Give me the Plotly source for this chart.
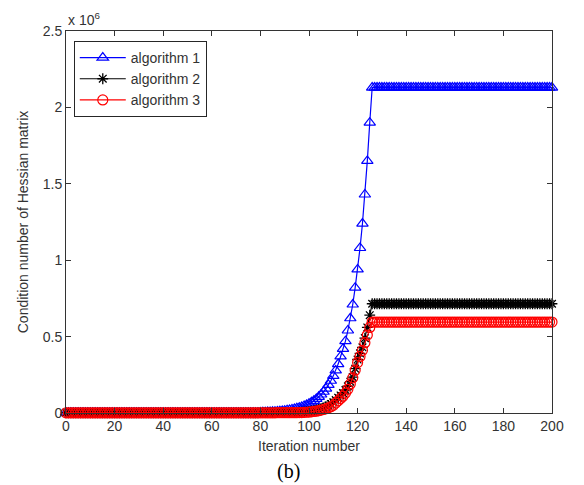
import numpy as np
import plotly.graph_objects as go

# Iteration index
iterations = list(range(0, 201))

# Condition number of the Hessian (in units of 1e6)
# algorithm 1: flat near zero, steep growth 80..125, plateau from 126
alg1_flat_start = 0.002
alg1_ramp = [0.004, 0.005, 0.005, 0.006, 0.007, 0.008, 0.009, 0.010, 0.012, 0.013,   # 80-89
             0.015, 0.018, 0.020, 0.023, 0.027, 0.031, 0.035, 0.040, 0.046, 0.053,   # 90-99
             0.061, 0.070, 0.080, 0.092, 0.106, 0.121, 0.139, 0.160, 0.184, 0.211,   # 100-109
             0.243, 0.279, 0.320, 0.370, 0.420, 0.470, 0.540, 0.620, 0.710, 0.820,   # 110-119
             0.940, 1.080, 1.240, 1.430, 1.650, 1.900]                               # 120-125
alg1_plateau = 2.13

# algorithm 2
alg2_flat_start = 0.001
alg2_ramp = [0.002, 0.002, 0.002, 0.003, 0.003, 0.003, 0.003, 0.003, 0.003, 0.004,   # 80-89
             0.004, 0.004, 0.004, 0.004, 0.004, 0.004, 0.005, 0.006, 0.007, 0.009,   # 90-99
             0.011, 0.013, 0.016, 0.019, 0.023, 0.028, 0.034, 0.041, 0.049, 0.059,   # 100-109
             0.070, 0.085, 0.100, 0.115, 0.130, 0.150, 0.175, 0.205, 0.235, 0.290,   # 110-119
             0.350, 0.390, 0.430, 0.490, 0.560, 0.640]                               # 120-125
alg2_plateau = 0.715

# algorithm 3
alg3_flat_start = 0.001
alg3_ramp = [0.001, 0.001, 0.001, 0.001, 0.001, 0.001, 0.001, 0.002, 0.002, 0.002,   # 80-89
             0.002, 0.002, 0.002, 0.002, 0.002, 0.002, 0.003, 0.003, 0.004, 0.005,   # 90-99
             0.006, 0.008, 0.010, 0.012, 0.015, 0.019, 0.023, 0.028, 0.034, 0.041,   # 100-109
             0.050, 0.065, 0.080, 0.095, 0.110, 0.130, 0.155, 0.190, 0.230, 0.280,   # 110-119
             0.330, 0.370, 0.410, 0.460, 0.510, 0.560]                               # 120-125
alg3_plateau = 0.595

x_ticks = [0, 20, 40, 60, 80, 100, 120, 140, 160, 180, 200]
y_ticks = [0, 0.5, 1, 1.5, 2, 2.5]
y_tick_text = ["0", "0.5", "1", "1.5", "2", "2.5"]


def build(start, ramp, plateau):
    n_start = 80
    n_plateau = len(iterations) - n_start - len(ramp)
    return [start] * n_start + list(ramp) + [plateau] * n_plateau


alg1 = build(alg1_flat_start, alg1_ramp, alg1_plateau)
alg2 = build(alg2_flat_start, alg2_ramp, alg2_plateau)
alg3 = build(alg3_flat_start, alg3_ramp, alg3_plateau)

FONT = "Liberation Sans, Arial, sans-serif"
TEXT_COLOR = "#333333"
AXIS_COLOR = "#333333"
FS = 14

fig = go.Figure()
fig.add_trace(go.Scatter(
    x=iterations, y=alg1, name="algorithm 1", mode="lines+markers",
    line=dict(color="#0000ff", width=1.2),
    marker=dict(symbol="triangle-up-open", size=10, color="#0000ff", line=dict(width=1.2)),
    cliponaxis=False,
))
fig.add_trace(go.Scatter(
    x=iterations, y=alg2, name="algorithm 2", mode="lines+markers",
    line=dict(color="#000000", width=1.2),
    marker=dict(symbol="asterisk-open", size=9, color="#000000", line=dict(width=1.3, color="#000000")),
    cliponaxis=False,
))
fig.add_trace(go.Scatter(
    x=iterations, y=alg3, name="algorithm 3", mode="lines+markers",
    line=dict(color="#ff0000", width=1.2),
    marker=dict(symbol="circle-open", size=10, color="#ff0000", line=dict(width=1.2)),
    cliponaxis=False,
))

axis_common = dict(
    showline=True, linecolor=AXIS_COLOR, linewidth=1, mirror="ticks",
    ticks="inside", ticklen=5, tickcolor=AXIS_COLOR, tickwidth=1,
    showgrid=False, zeroline=False,
    tickfont=dict(family=FONT, size=FS, color=TEXT_COLOR),
)

fig.update_layout(
    width=584, height=485,
    margin=dict(l=66, r=32, t=31, b=72),
    paper_bgcolor="white", plot_bgcolor="white",
    font=dict(family=FONT, size=FS, color=TEXT_COLOR),
    showlegend=True,
    legend=dict(
        x=0.016, y=0.974, xanchor="left", yanchor="top",
        bgcolor="white", bordercolor="#262626", borderwidth=1,
        font=dict(family=FONT, size=FS, color=TEXT_COLOR),
        itemwidth=46, tracegroupgap=0,
    ),
    xaxis=dict(range=[0, 200], tickvals=x_ticks,
               title=dict(text="Iteration number", standoff=8,
                          font=dict(family=FONT, size=FS, color=TEXT_COLOR)), **axis_common),
    yaxis=dict(range=[0, 2.5], tickvals=y_ticks, ticktext=y_tick_text,
               title=dict(text="Condition number of Hessian matrix", standoff=10,
                          font=dict(family=FONT, size=FS, color=TEXT_COLOR)), **axis_common),
    annotations=[
        dict(text="x 10<sup>6</sup>", xref="paper", yref="paper", x=0.0, y=1.0,
             xanchor="left", yanchor="bottom", yshift=1, showarrow=False,
             font=dict(family=FONT, size=FS, color=TEXT_COLOR)),
        dict(text="(b)", xref="paper", yref="paper", x=(288 - 66) / 486, y=-(471 - 413) / 382,
             xanchor="center", yanchor="middle", showarrow=False,
             font=dict(family="Liberation Serif, Times New Roman, serif", size=20, color="#000000")),
    ],
)

fig.write_html("out.html")
